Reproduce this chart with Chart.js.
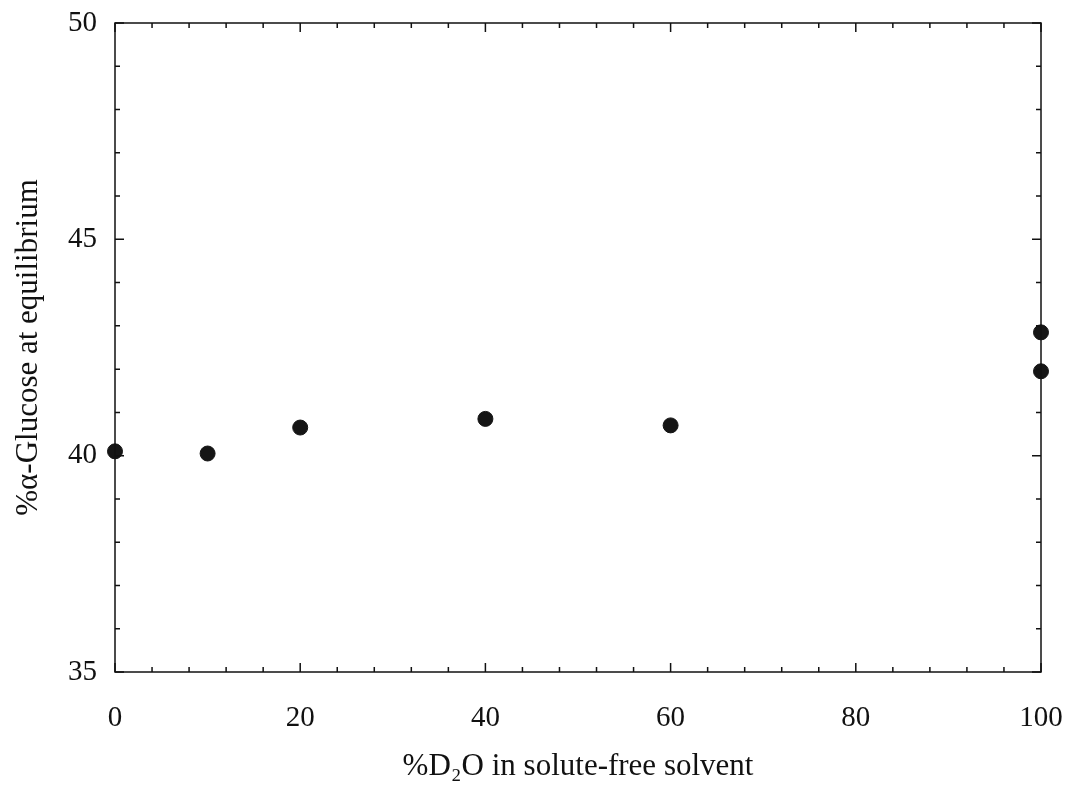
<!DOCTYPE html>
<html>
<head>
<meta charset="utf-8">
<script src="https://cdn.jsdelivr.net/npm/chart.js@4"></script>
<style>
  html, body { margin: 0; padding: 0; background: #fff; }
  #wrap { width: 1067px; height: 787px; }
</style>
</head>
<body>
<div id="wrap"><canvas id="glucoseChart" width="1067" height="787"></canvas></div>
<script>
// Werte
const d2oPercent = [0, 10, 20, 40, 60, 100, 100];
const alphaGlucose = [40.1, 40.05, 40.65, 40.85, 40.7, 42.85, 41.95];

const xTicks = [0, 20, 40, 60, 80, 100];
const yTicks = [35, 40, 45, 50];
const xMinorStep = 4;
const yMinorStep = 1;

const serif = "'Liberation Serif', 'Times New Roman', serif";

// Striche nach innen auf allen vier Seiten
const innerTicks = {
    id: 'innerTicks',
    afterDraw(chart) {
        const { ctx, chartArea: a, scales: { x, y } } = chart;
        ctx.save();
        ctx.strokeStyle = '#111';
        ctx.lineWidth = 1.5;
        ctx.strokeRect(a.left, a.top, a.right - a.left, a.bottom - a.top);
        ctx.beginPath();
        for (let v = x.min; v <= x.max + 1e-9; v += xMinorStep) {
            const px = x.getPixelForValue(v);
            const len = xTicks.includes(v) ? 9 : 5;
            ctx.moveTo(px, a.bottom); ctx.lineTo(px, a.bottom - len);
            ctx.moveTo(px, a.top); ctx.lineTo(px, a.top + len);
        }
        for (let v = y.min; v <= y.max + 1e-9; v += yMinorStep) {
            const py = y.getPixelForValue(v);
            const len = yTicks.includes(v) ? 9 : 5;
            ctx.moveTo(a.left, py); ctx.lineTo(a.left + len, py);
            ctx.moveTo(a.right, py); ctx.lineTo(a.right - len, py);
        }
        ctx.stroke();
        ctx.restore();
    }
};

// feste Achsenbreiten, ohne zusätzlichen Rand für überstehende Beschriftungen
function fixX(s) { s.height = 115; s.paddingLeft = 0; s.paddingRight = 0; }
function fixY(s) { s.width = 115; s.paddingTop = 0; s.paddingBottom = 0; }

new Chart(document.getElementById('glucoseChart').getContext('2d'), {
    type: 'scatter',
    data: {
        datasets: [{
            data: d2oPercent.map((v, i) => ({ x: v, y: alphaGlucose[i] })),
            backgroundColor: '#151515',
            borderColor: '#151515',
            pointRadius: 7.5,
            clip: false
        }]
    },
    options: {
        responsive: false,
        animation: false,
        layout: { padding: { left: 0, top: 23, right: 26, bottom: 0 } },
        plugins: { legend: { display: false }, tooltip: { enabled: false } },
        scales: {
            x: {
                min: 0, max: 100,
                afterFit: fixX,
                afterBuildTicks: s => { s.ticks = xTicks.map(v => ({ value: v })); },
                grid: { display: false, drawTicks: false },
                border: { display: false },
                ticks: { color: '#111', font: { family: serif, size: 29 }, padding: 29, maxRotation: 0 },
                title: {
                    display: true, text: '%D\u2082O in solute-free solvent', color: '#111',
                    font: { family: serif, size: 31 }, padding: { top: 0, bottom: 2 }
                }
            },
            y: {
                min: 35, max: 50,
                afterFit: fixY,
                afterBuildTicks: s => { s.ticks = yTicks.map(v => ({ value: v })); },
                grid: { display: false, drawTicks: false },
                border: { display: false },
                ticks: { color: '#111', font: { family: serif, size: 29 }, padding: 18 },
                title: {
                    display: true, text: '%\u03b1-Glucose at equilibrium', color: '#111',
                    font: { family: serif, size: 31 }, padding: { top: 10, bottom: 0 }
                }
            }
        }
    },
    plugins: [innerTicks]
});
</script>
</body>
</html>
